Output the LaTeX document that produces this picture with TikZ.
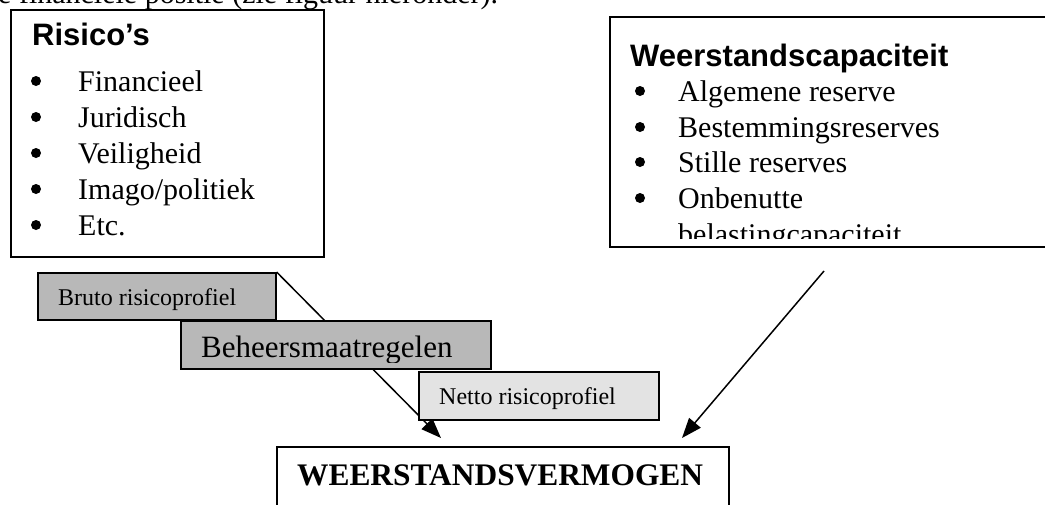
\documentclass[tikz,border=0pt]{standalone}
\usepackage{fontspec}
\setmainfont{Liberation Serif}
\newfontfamily\arialf{Liberation Sans}
\usetikzlibrary{arrows.meta}
\begin{document}
\begin{tikzpicture}[x=1pt,y=-1pt,
  box/.style={draw=black, line width=1.6pt, inner sep=0pt, anchor=north west},
  lbl/.style={inner sep=0pt, anchor=base west},
  ttl/.style={lbl, font=\arialf\bfseries\fontsize{31}{36}\selectfont},
  itm/.style={lbl, font=\fontsize{30}{36}\selectfont},
  bul/.style={circle, fill=black, inner sep=0pt, minimum size=10pt},
  small/.style={lbl, font=\fontsize{24}{28}\selectfont},
  big/.style={lbl, font=\fontsize{31}{36}\selectfont},
  arr/.style={line width=1.5pt, -{Triangle[length=20pt,width=15pt]}},
  darkfill/.style={fill=black!28},
  lightfill/.style={fill=black!11},
]
\useasboundingbox (0,0) rectangle (1045,504);

% cut-off line of body text at the top
\begin{scope}
  \clip (0,0) rectangle (1045,504);
  \node[itm] (toptext) at (-2,3) {e financiële positie (zie figuur hieronder).};
\end{scope}

% Risico's box
\node[box, minimum width=313pt, minimum height=247pt] (risico) at (10,9) {};
\node[ttl] (risicotitle) at (32,45) {Risico’s};
\foreach \y/\t [count=\i] in {91/Financieel,127/Juridisch,163/Veiligheid,199/Imago\slash politiek,235/Etc.}{
  \node[bul] (rb\i) at (36,\y-10) {};
  \node[itm] (ri\i) at (78,\y) {\t};
}

% Weerstandscapaciteit box
\node[box, minimum width=445pt, minimum height=230pt] (weer) at (609,16) {};
\node[ttl] (weertitle) at (630,66) {Weerstandscapaciteit};
\foreach \y/\t [count=\i] in {101/Algemene reserve,137/Bestemmingsreserves,172/Stille reserves,208/Onbenutte}{
  \node[bul] (wb\i) at (640,\y-10) {};
  \node[itm] (wi\i) at (678,\y) {\t};
}
\begin{scope}
  \clip (609,16) rectangle (1045,238);
  \node[itm] (wi5) at (678,244) {belastingcapaciteit};
\end{scope}

% Bruto risicoprofiel
\node[box, darkfill, minimum width=238pt, minimum height=47pt] (bruto) at (37,272) {};
\node[small] (brutotext) at (58,305) {Bruto risicoprofiel};

% left connector (runs behind the boxes below)
\coordinate (t1) at (441,438);
\draw[arr] (bruto.north east) -- (t1);

% Beheersmaatregelen
\node[box, darkfill, minimum width=310pt, minimum height=48pt] (beheer) at (180,320) {};
\begin{scope}
  \clip (180,320) rectangle (490,362);
  \node[big] (beheertext) at (201,357) {Beheersmaatregelen};
\end{scope}

% Netto risicoprofiel
\node[box, lightfill, minimum width=240pt, minimum height=48pt] (netto) at (418,371) {};
\node[small] (nettotext) at (439,404) {Netto risicoprofiel};

% right connector
\coordinate (s2) at (824,271);
\coordinate (t2) at (682,438);
\draw[arr] (s2) -- (t2);

% Weerstandsvermogen
\node[box, fill=white, minimum width=452pt, minimum height=70pt] (wv) at (276,446) {};
\node[lbl, font=\bfseries\fontsize{31.4}{36}\selectfont] (wvtext) at (297,485) {WEERSTANDSVERMOGEN};
\end{tikzpicture}
\end{document}
